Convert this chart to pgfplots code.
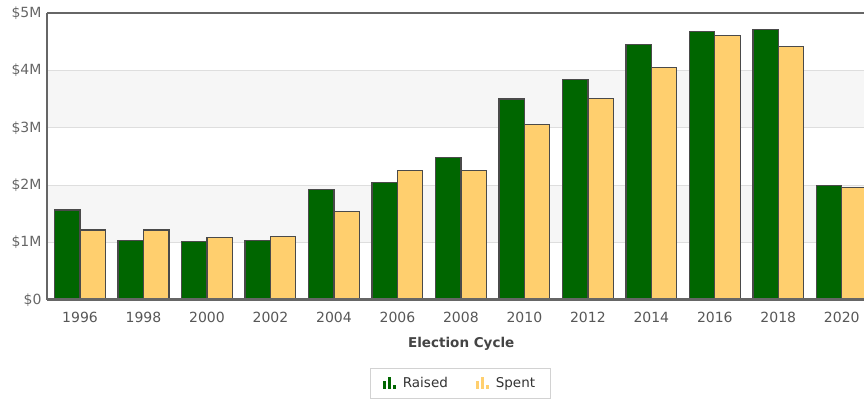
\documentclass[border=0pt]{standalone}
\usepackage{fontspec}
\setmainfont{DejaVu Sans}
\usepackage{pgfplots}
\pgfplotsset{compat=1.18}

\definecolor{raised}{HTML}{006600}
\definecolor{spent}{HTML}{FFCF6E}
\definecolor{barline}{HTML}{4A4A4A}
\definecolor{band}{HTML}{F6F6F6}
\definecolor{gridc}{HTML}{DEDEDE}
\definecolor{labc}{HTML}{666666}
\definecolor{axc}{HTML}{666666}
\definecolor{titlec}{HTML}{444444}

\begin{document}
\begin{tikzpicture}
\begin{axis}[
  at={(47pt,103pt)}, anchor=south west,
  scale only axis, width=817pt, height=287pt,
  xmin=-0.52, xmax=12.35, ymin=0, ymax=5,
  set layers, clip=false,
  axis line style={draw=none},
  ybar=0pt, bar width=0.4,
  xtick={0,...,12},
  xticklabels={1996,1998,2000,2002,2004,2006,2008,2010,2012,2014,2016,2018,2020},
  ytick={0,1,2,3,4,5},
  yticklabels={\$0,\$1M,\$2M,\$3M,\$4M,\$5M},
  major tick length=0pt,
  ticklabel style={font=\fontsize{14}{16}\selectfont},
  yticklabel style={labc, xshift=-2pt},
  xticklabel style={labc!85!black, yshift=-9pt},
  xlabel={Election Cycle},
  xlabel style={font=\fontsize{13.5}{16}\selectfont\bfseries, titlec,
    at={(axis description cs:0.507,0)}, anchor=center, yshift=-44pt},
  legend style={at={(0.5055,-0.289)}, anchor=center, draw=gray!35, fill=white,
    font=\fontsize{13.5}{16}\selectfont, text=black!80,
    inner xsep=13pt, inner ysep=7pt,
    /tikz/every even column/.append style={column sep=26pt}},
  legend columns=2,
]
% alternating bands and grid lines behind the bars
\fill[band, on layer=axis background] (axis cs:-0.52,1) rectangle (axis cs:12.35,2);
\fill[band, on layer=axis background] (axis cs:-0.52,3) rectangle (axis cs:12.35,4);
\draw[gridc, line width=1.3pt, on layer=axis background] (axis cs:-0.52,1) -- (axis cs:12.35,1);
\draw[gridc, line width=1.3pt, on layer=axis background] (axis cs:-0.52,2) -- (axis cs:12.35,2);
\draw[gridc, line width=1.3pt, on layer=axis background] (axis cs:-0.52,3) -- (axis cs:12.35,3);
\draw[gridc, line width=1.3pt, on layer=axis background] (axis cs:-0.52,4) -- (axis cs:12.35,4);

\addplot[fill=raised, draw=barline, line width=1.3pt,
  legend image code/.code={
    \path[draw=none, fill=none] (0pt,0pt) -- (18pt,0pt);
    \fill[raised, draw=none] (0pt,-6pt) rectangle (3.5pt,2pt);
    \fill[raised, draw=none] (5pt,-6pt) rectangle (8.5pt,6pt);
    \fill[raised, draw=none] (10pt,-6pt) rectangle (13.5pt,-2pt);}]
  coordinates {(0,1.57) (1,1.04) (2,1.02) (3,1.04) (4,1.92) (5,2.05) (6,2.48)
               (7,3.50) (8,3.84) (9,4.45) (10,4.68) (11,4.71) (12,1.99)};
\addlegendentry{Raised}

\addplot[fill=spent, draw=barline, line width=1.3pt,
  legend image code/.code={
    \path[draw=none, fill=none] (0pt,0pt) -- (18pt,0pt);
    \fill[spent, draw=none] (0pt,-6pt) rectangle (3.5pt,2pt);
    \fill[spent, draw=none] (5pt,-6pt) rectangle (8.5pt,6pt);
    \fill[spent, draw=none] (10pt,-6pt) rectangle (13.5pt,-2pt);}]
  coordinates {(0,1.22) (1,1.22) (2,1.09) (3,1.11) (4,1.54) (5,2.25) (6,2.25)
               (7,3.06) (8,3.51) (9,4.05) (10,4.61) (11,4.42) (12,1.96)};
\addlegendentry{Spent}

% frame: top and left edges, heavy base line
\draw[axc, line width=2pt, on layer=axis foreground] (rel axis cs:0,1) -- (rel axis cs:1,1);
\draw[axc, line width=2.2pt, on layer=axis foreground] (rel axis cs:0,0) -- (rel axis cs:0,1);
\draw[axc, line width=3pt, on layer=axis foreground] (rel axis cs:0,0) -- (rel axis cs:1,0);
\end{axis}
% page frame: the chart runs on past the right edge
\pgfresetboundingbox
\useasboundingbox (0pt,0pt) rectangle (864pt,403pt);
\end{tikzpicture}
\end{document}
